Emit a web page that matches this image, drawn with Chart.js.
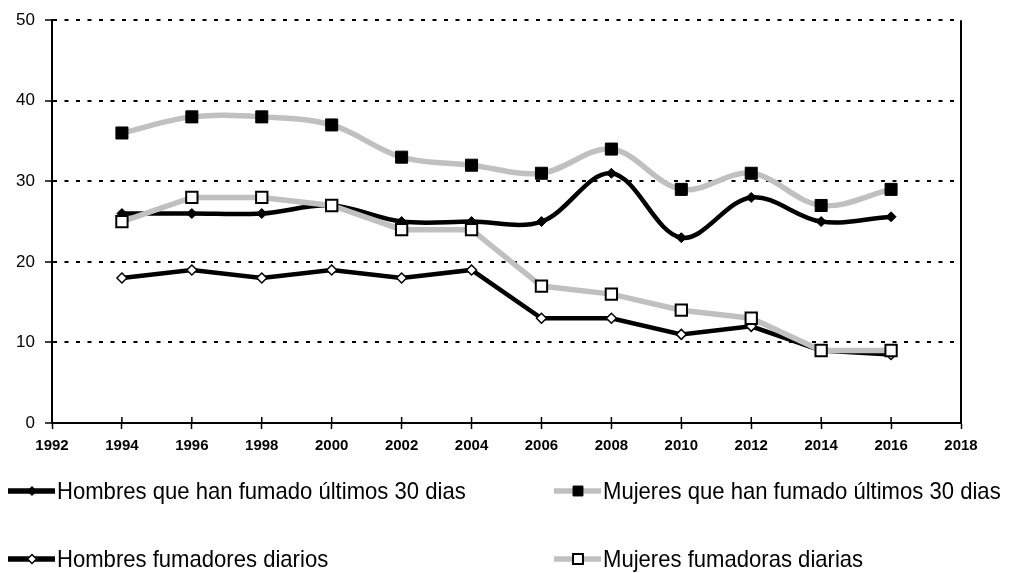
<!DOCTYPE html>
<html>
<head>
<meta charset="utf-8">
<script src="https://cdn.jsdelivr.net/npm/chart.js@4.4.1/dist/chart.umd.min.js"></script>
<style>
  body { margin: 0; background: #fff; }
  #wrap { width: 1013px; height: 573px; }
</style>
</head>
<body>
<div id="wrap"><canvas id="smokeChart" width="1013" height="573"></canvas></div>
<script>
// años de la encuesta
const years = [1994, 1996, 1998, 2000, 2002, 2004, 2006, 2008, 2010, 2012, 2014, 2016];

// porcentajes
const hombres30 = [26, 26, 26, 27, 25, 25, 25, 31, 23, 28, 25, 25.6];
const mujeres30 = [36, 38, 38, 37, 33, 32, 31, 34, 29, 31, 27, 29];
const hombresDiarios = [18, 19, 18, 19, 18, 19, 13, 13, 11, 12, 9, 8.5];
const mujeresDiarias = [25, 28, 28, 27, 24, 24, 17, 16, 14, 13, 9, 9];

const seriesLabels = [
    'Hombres que han fumado últimos 30 dias',
    'Mujeres que han fumado últimos 30 dias',
    'Hombres fumadores diarios',
    'Mujeres fumadoras diarias'
];

const GRAY = '#c0c0c0';
const FONT = '"Liberation Sans", Arial, sans-serif';

function toPoints(values) {
    return years.map((y, i) => ({ x: y, y: values[i] }));
}

// leyenda en dos columnas, dibujada a mano
const legendSpots = [
    { x: 8, y: 491 }, { x: 554, y: 491 },
    { x: 8, y: 559 }, { x: 554, y: 559 }
];

function drawMarker(ctx, style, fill, cx, cy, r, bw) {
    ctx.beginPath();
    if (style === 'rect') {
        const s = r * Math.SQRT1_2;
        ctx.rect(cx - s, cy - s, 2 * s, 2 * s);
    } else {
        ctx.moveTo(cx - r, cy);
        ctx.lineTo(cx, cy - r);
        ctx.lineTo(cx + r, cy);
        ctx.lineTo(cx, cy + r);
        ctx.closePath();
    }
    ctx.fillStyle = fill;
    ctx.fill();
    ctx.lineWidth = bw;
    ctx.strokeStyle = '#000';
    ctx.stroke();
}

const frameAndLegend = {
    id: 'frameAndLegend',
    afterDraw(chart) {
        const ctx = chart.ctx;
        const area = chart.chartArea;
        const xs = chart.scales.x;

        ctx.save();
        // borde derecho
        ctx.strokeStyle = '#000';
        ctx.lineWidth = 2;
        ctx.beginPath();
        ctx.moveTo(area.right, area.top);
        ctx.lineTo(area.right, area.bottom + 1);
        ctx.stroke();

        // marcas del eje x que cruzan hacia dentro
        ctx.lineWidth = 1.5;
        xs.ticks.forEach(t => {
            const px = xs.getPixelForValue(t.value);
            ctx.beginPath();
            ctx.moveTo(px, area.bottom - 6);
            ctx.lineTo(px, area.bottom);
            ctx.stroke();
        });

        // leyenda
        chart.data.datasets.forEach((ds, i) => {
            const spot = legendSpots[i];
            ctx.strokeStyle = ds.borderColor;
            ctx.lineWidth = 5.5;
            ctx.beginPath();
            ctx.moveTo(spot.x, spot.y);
            ctx.lineTo(spot.x + 47, spot.y);
            ctx.stroke();
            const r = ds.pointStyle === 'rect' ? 7 : 4.5;
            drawMarker(ctx, ds.pointStyle, ds.pointBackgroundColor, spot.x + 24, spot.y, r, ds.pointBorderWidth);

            ctx.save();
            ctx.translate(spot.x + 49, spot.y + 1);
            ctx.scale(0.92, 1);
            ctx.fillStyle = '#000';
            ctx.font = '24px ' + FONT;
            ctx.textBaseline = 'middle';
            ctx.textAlign = 'left';
            ctx.fillText(seriesLabels[i], 0, 0);
            ctx.restore();
        });
        ctx.restore();
    }
};

const ctx = document.getElementById('smokeChart').getContext('2d');

new Chart(ctx, {
    type: 'line',
    data: {
        datasets: [{
            label: seriesLabels[0],
            data: toPoints(hombres30),
            borderColor: '#000',
            borderWidth: 4.5,
            tension: 0.35,
            pointStyle: 'rectRot',
            pointRadius: 5,
            pointBackgroundColor: '#000',
            pointBorderColor: '#000',
            pointBorderWidth: 1,
            order: 2
        }, {
            label: seriesLabels[1],
            data: toPoints(mujeres30),
            borderColor: GRAY,
            borderWidth: 5.5,
            tension: 0.35,
            pointStyle: 'rect',
            pointRadius: 8.5,
            pointBackgroundColor: '#000',
            pointBorderColor: '#000',
            pointBorderWidth: 1,
            order: 3
        }, {
            label: seriesLabels[2],
            data: toPoints(hombresDiarios),
            borderColor: '#000',
            borderWidth: 4.5,
            tension: 0,
            pointStyle: 'rectRot',
            pointRadius: 5,
            pointBackgroundColor: '#fff',
            pointBorderColor: '#000',
            pointBorderWidth: 1.5,
            order: 1
        }, {
            label: seriesLabels[3],
            data: toPoints(mujeresDiarias),
            borderColor: GRAY,
            borderWidth: 5.5,
            tension: 0,
            pointStyle: 'rect',
            pointRadius: 8,
            pointBackgroundColor: '#fff',
            pointBorderColor: '#000',
            pointBorderWidth: 2,
            order: 0
        }]
    },
    options: {
        responsive: false,
        animation: false,
        devicePixelRatio: 1,
        layout: { padding: { top: 19.5, right: 52, left: 0, bottom: 0 } },
        plugins: {
            legend: { display: false },
            tooltip: { enabled: false }
        },
        scales: {
            x: {
                type: 'linear',
                min: 1992,
                max: 2018,
                afterFit: scale => { scale.height = 150; },
                ticks: {
                    stepSize: 2,
                    color: '#000',
                    padding: 8,
                    font: { family: FONT, size: 15, weight: 'bold' },
                    callback: v => String(v)
                },
                grid: {
                    drawOnChartArea: false,
                    tickLength: 6,
                    tickColor: '#000',
                    tickWidth: 1.5
                },
                border: { color: '#000', width: 2 }
            },
            y: {
                min: 0,
                max: 50,
                afterFit: scale => { scale.width = 52; },
                ticks: {
                    stepSize: 10,
                    color: '#000',
                    padding: 10,
                    font: { family: FONT, size: 17 }
                },
                grid: {
                    color: c => (c.tick && c.tick.value === 0) ? 'rgba(0,0,0,0)' : '#000',
                    lineWidth: 2,
                    tickLength: 7,
                    tickColor: '#000',
                    tickWidth: 1.5
                },
                border: { color: '#000', width: 2, dash: [4, 7.5] }
            }
        }
    },
    plugins: [frameAndLegend]
});
</script>
</body>
</html>
